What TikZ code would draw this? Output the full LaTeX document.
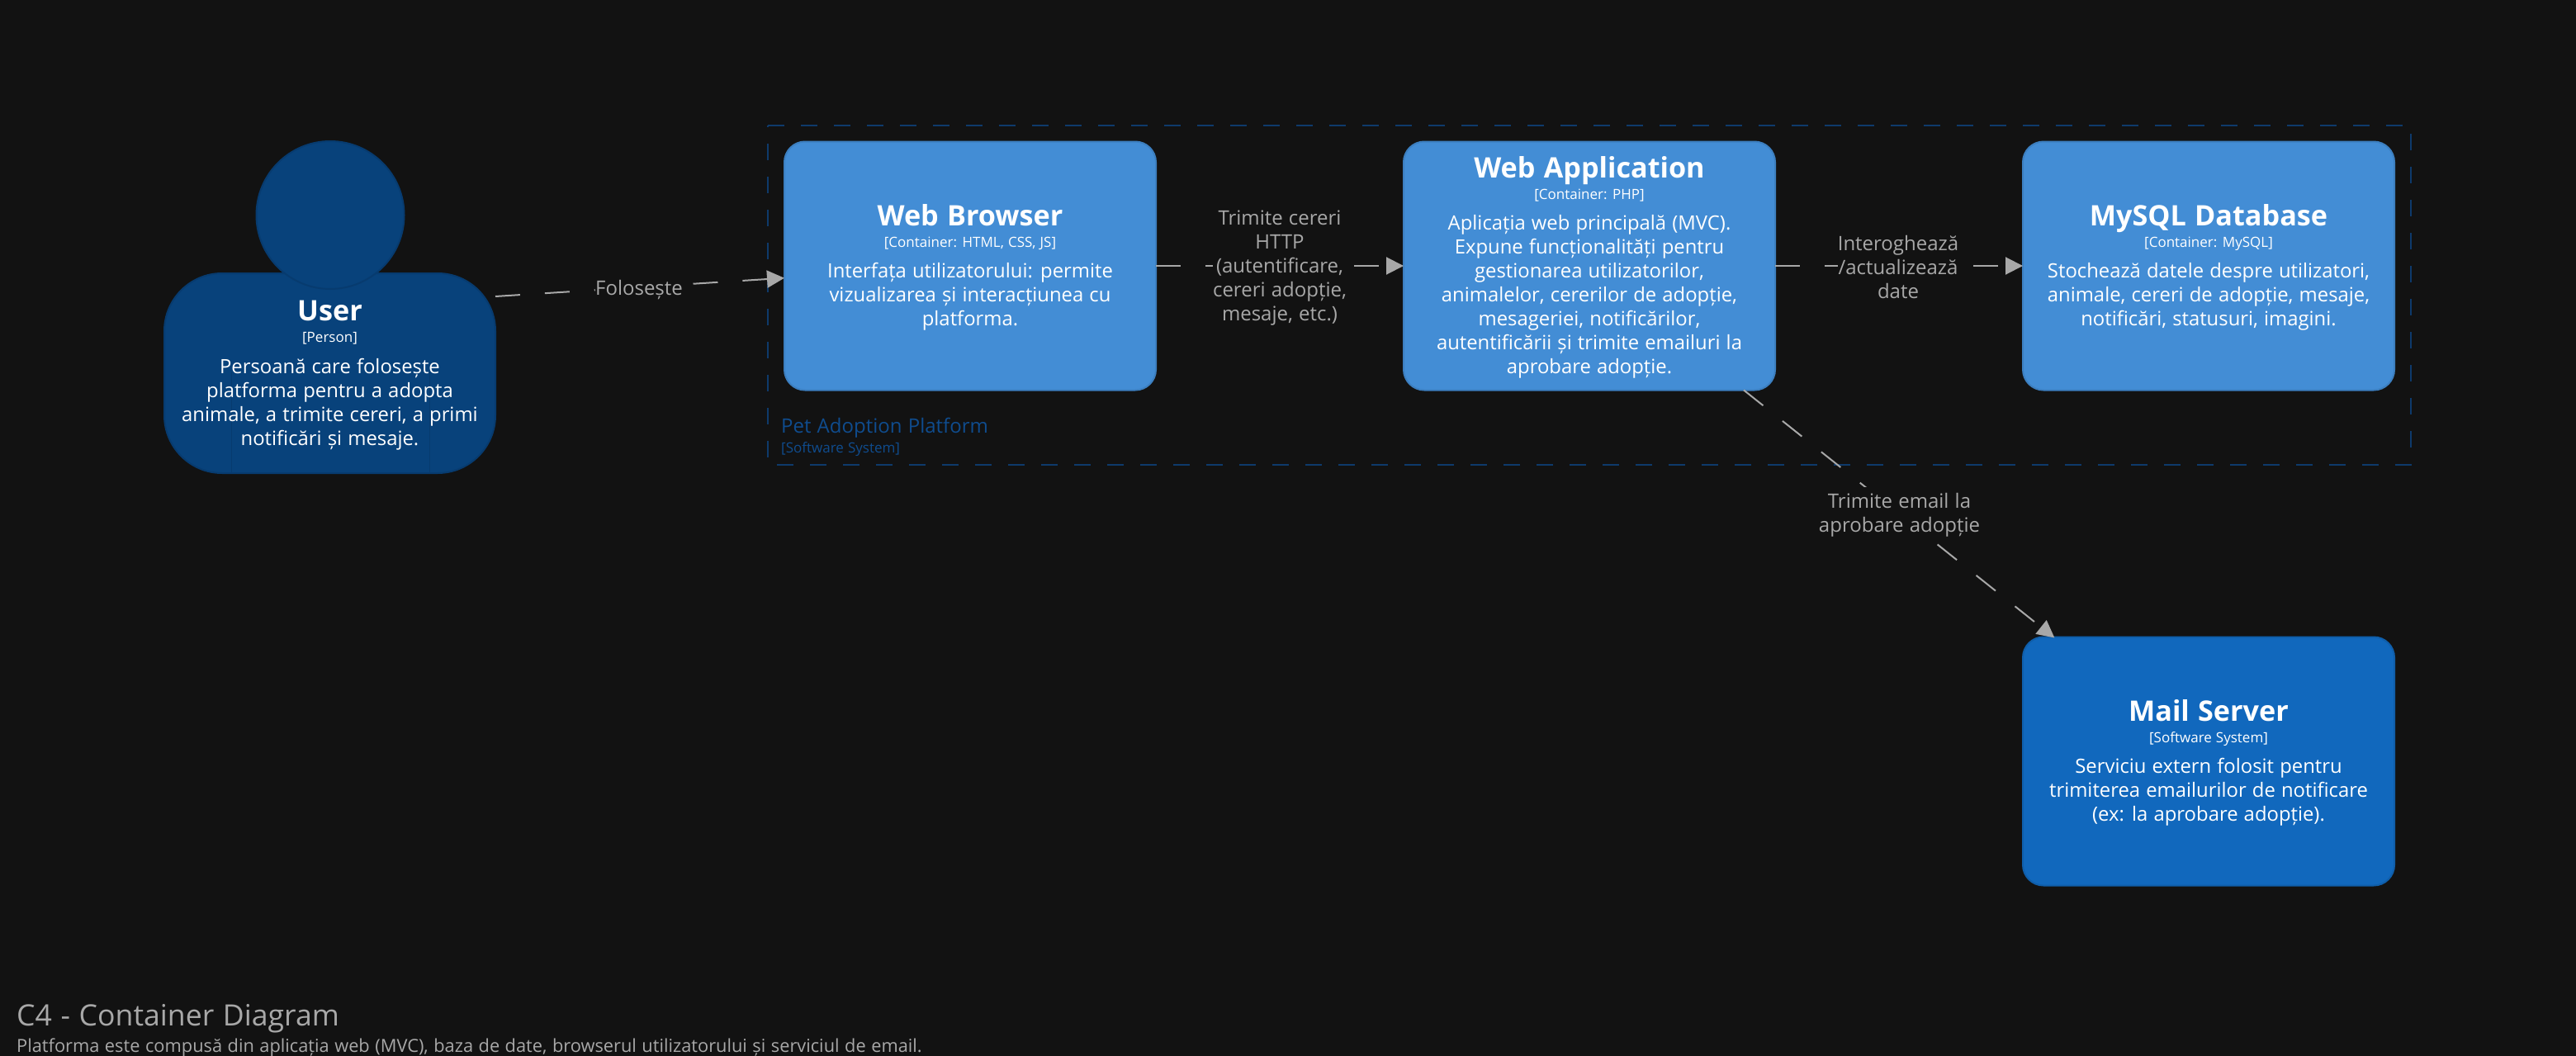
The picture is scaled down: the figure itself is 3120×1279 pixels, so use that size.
\documentclass[tikz,border=0pt]{standalone}
\usepackage{fontspec}
\setmainfont[WordSpace=1.15]{Open Sans}
\usetikzlibrary{arrows.meta,calc}
\definecolor{bgc}{HTML}{121212}
\definecolor{contc}{HTML}{438DD5}
\definecolor{contb}{HTML}{3C7FC0}
\definecolor{persc}{HTML}{08427B}
\definecolor{persb}{HTML}{073B6F}
\definecolor{extc}{HTML}{1168BD}
\definecolor{extb}{HTML}{0F5EAA}
\definecolor{bndc}{HTML}{0E3A6B}
\definecolor{bndt}{HTML}{0F4C8E}
\definecolor{linec}{HTML}{A8A8A8}
\newcommand{\ctitle}[1]{{\fontsize{34.2}{36}\selectfont\bfseries #1\par}}
\newcommand{\cstereo}[1]{{\fontsize{17}{26}\selectfont #1\par}}
\newcommand{\cdesc}[1]{\vspace{8.5pt}{\fontsize{23.85}{29}\selectfont #1\par}\vspace*{-4pt}}
\tikzset{
  x=1pt,y=-1pt,
  c4box/.style={rounded corners=25pt,line width=2pt,minimum width=450pt,minimum height=301pt,inner sep=0pt,outer sep=0pt,text width=446pt,align=flush center,text=white},
  contbox/.style={c4box,fill=contc,draw=contb},
  extbox/.style={c4box,fill=extc,draw=extb},
  rel/.style={draw=linec,line width=2pt,dash pattern=on 30pt off 30pt,-{Triangle[length=21pt,width=21pt,fill=linec]}},
  rellabel/.style={fill=bgc,text=linec,font=\fontsize{24}{29}\selectfont,align=center,inner sep=0pt,outer sep=0pt},
}
\begin{document}
\begin{tikzpicture}
\useasboundingbox (0,0) rectangle (3120,1279);
\fill[bgc] (0,0) rectangle (3120,1279);

% boundary
\draw[bndc,line width=2pt,dash pattern=on 20pt off 20pt] (930,152) -- (2920,152) -- (2920,563) -- (930,563) -- cycle;
\node[anchor=base west,text=bndt,font=\fontsize{24}{28}\selectfont,inner sep=0pt] (bndtitle) at (946,524) {Pet Adoption Platform};
\node[anchor=base west,text=bndt,font=\fontsize{17}{20}\selectfont,inner sep=0pt] (bndsub) at (946,548) {[Software System]};

% person
\node[fill=persc,draw=persb,line width=2pt,rounded corners=70pt,minimum width=401pt,minimum height=242pt,inner sep=0pt,outer sep=0pt] (user) at (399.5,452) {};
\draw[persb,line width=1pt] ($(user.south west)+(81,0)$) -- ++(0,-123);
\draw[persb,line width=1pt] ($(user.south east)+(-80,0)$) -- ++(0,-123);
\node[circle,fill=persc,draw=persb,line width=2pt,minimum size=179pt,inner sep=0pt,outer sep=0pt] (head) at (400,260.5) {};
\node[text width=396pt,align=flush center,text=white,inner sep=0pt] (usertext) at ($(user.center)+(0,0.5)$) {%
\ctitle{User}\cstereo{[Person]}\cdesc{Persoană care folosește\\platforma pentru a adopta\\animale, a trimite cereri, a primi\\notificări și mesaje.}};

% containers
\node[contbox] (browser) at (1175,322) {%
\ctitle{Web Browser}\cstereo{[Container: HTML, CSS, JS]}\cdesc{Interfața utilizatorului: permite\\vizualizarea și interacțiunea cu\\platforma.}};
\node[contbox] (app) at (1925,322) {%
\ctitle{Web Application}\cstereo{[Container: PHP]}\cdesc{Aplicația web principală (MVC).\\Expune funcționalități pentru\\gestionarea utilizatorilor,\\animalelor, cererilor de adopție,\\mesageriei, notificărilor,\\autentificării și trimite emailuri la\\aprobare adopție.}};
\node[contbox] (db) at (2675,322) {%
\ctitle{MySQL Database}\cstereo{[Container: MySQL]}\cdesc{Stochează datele despre utilizatori,\\animale, cereri de adopție, mesaje,\\notificări, statusuri, imagini.}};
\node[extbox] (mail) at (2675,922) {%
\ctitle{Mail Server}\cstereo{[Software System]}\cdesc{Serviciu extern folosit pentru\\trimiterea emailurilor de notificare\\(ex: la aprobare adopție).}};

% connectors
\draw[rel] ($(user.east)+(0,-93)$) -- ($(browser.west)+(0,14.7)$);
\draw[rel] (browser.east) -- (app.west);
\draw[rel] (app.east) -- (db.west);
\draw[rel] ($(app.south east)+(-38,0)$) -- ($(mail.north west)+(38.4,1)$);

% connector labels
\node[rellabel,minimum height=30pt] (l1) at (774,351) {Folosește};
\node[rellabel] (l2) at (1550,325) {Trimite cereri\\HTTP\\(autentificare,\\cereri adopție,\\mesaje, etc.)};
\node[rellabel] (l3) at (2299,323) {Interoghează\\/actualizează\\date};
\node[rellabel,minimum height=68pt] (l4) at (2300.5,624) {Trimite email la\\aprobare adopție};

% title
\node[anchor=base west,text=linec,font=\fontsize{35.6}{40}\selectfont,inner sep=0pt] (title) at (20,1242) {C4 - Container Diagram};
\node[anchor=base west,text=linec,font=\fontsize{21.8}{26}\selectfont,inner sep=0pt] (subtitle) at (20,1274) {Platforma este compusă din aplicația web (MVC), baza de date, browserul utilizatorului și serviciul de email.};
\end{tikzpicture}
\end{document}
